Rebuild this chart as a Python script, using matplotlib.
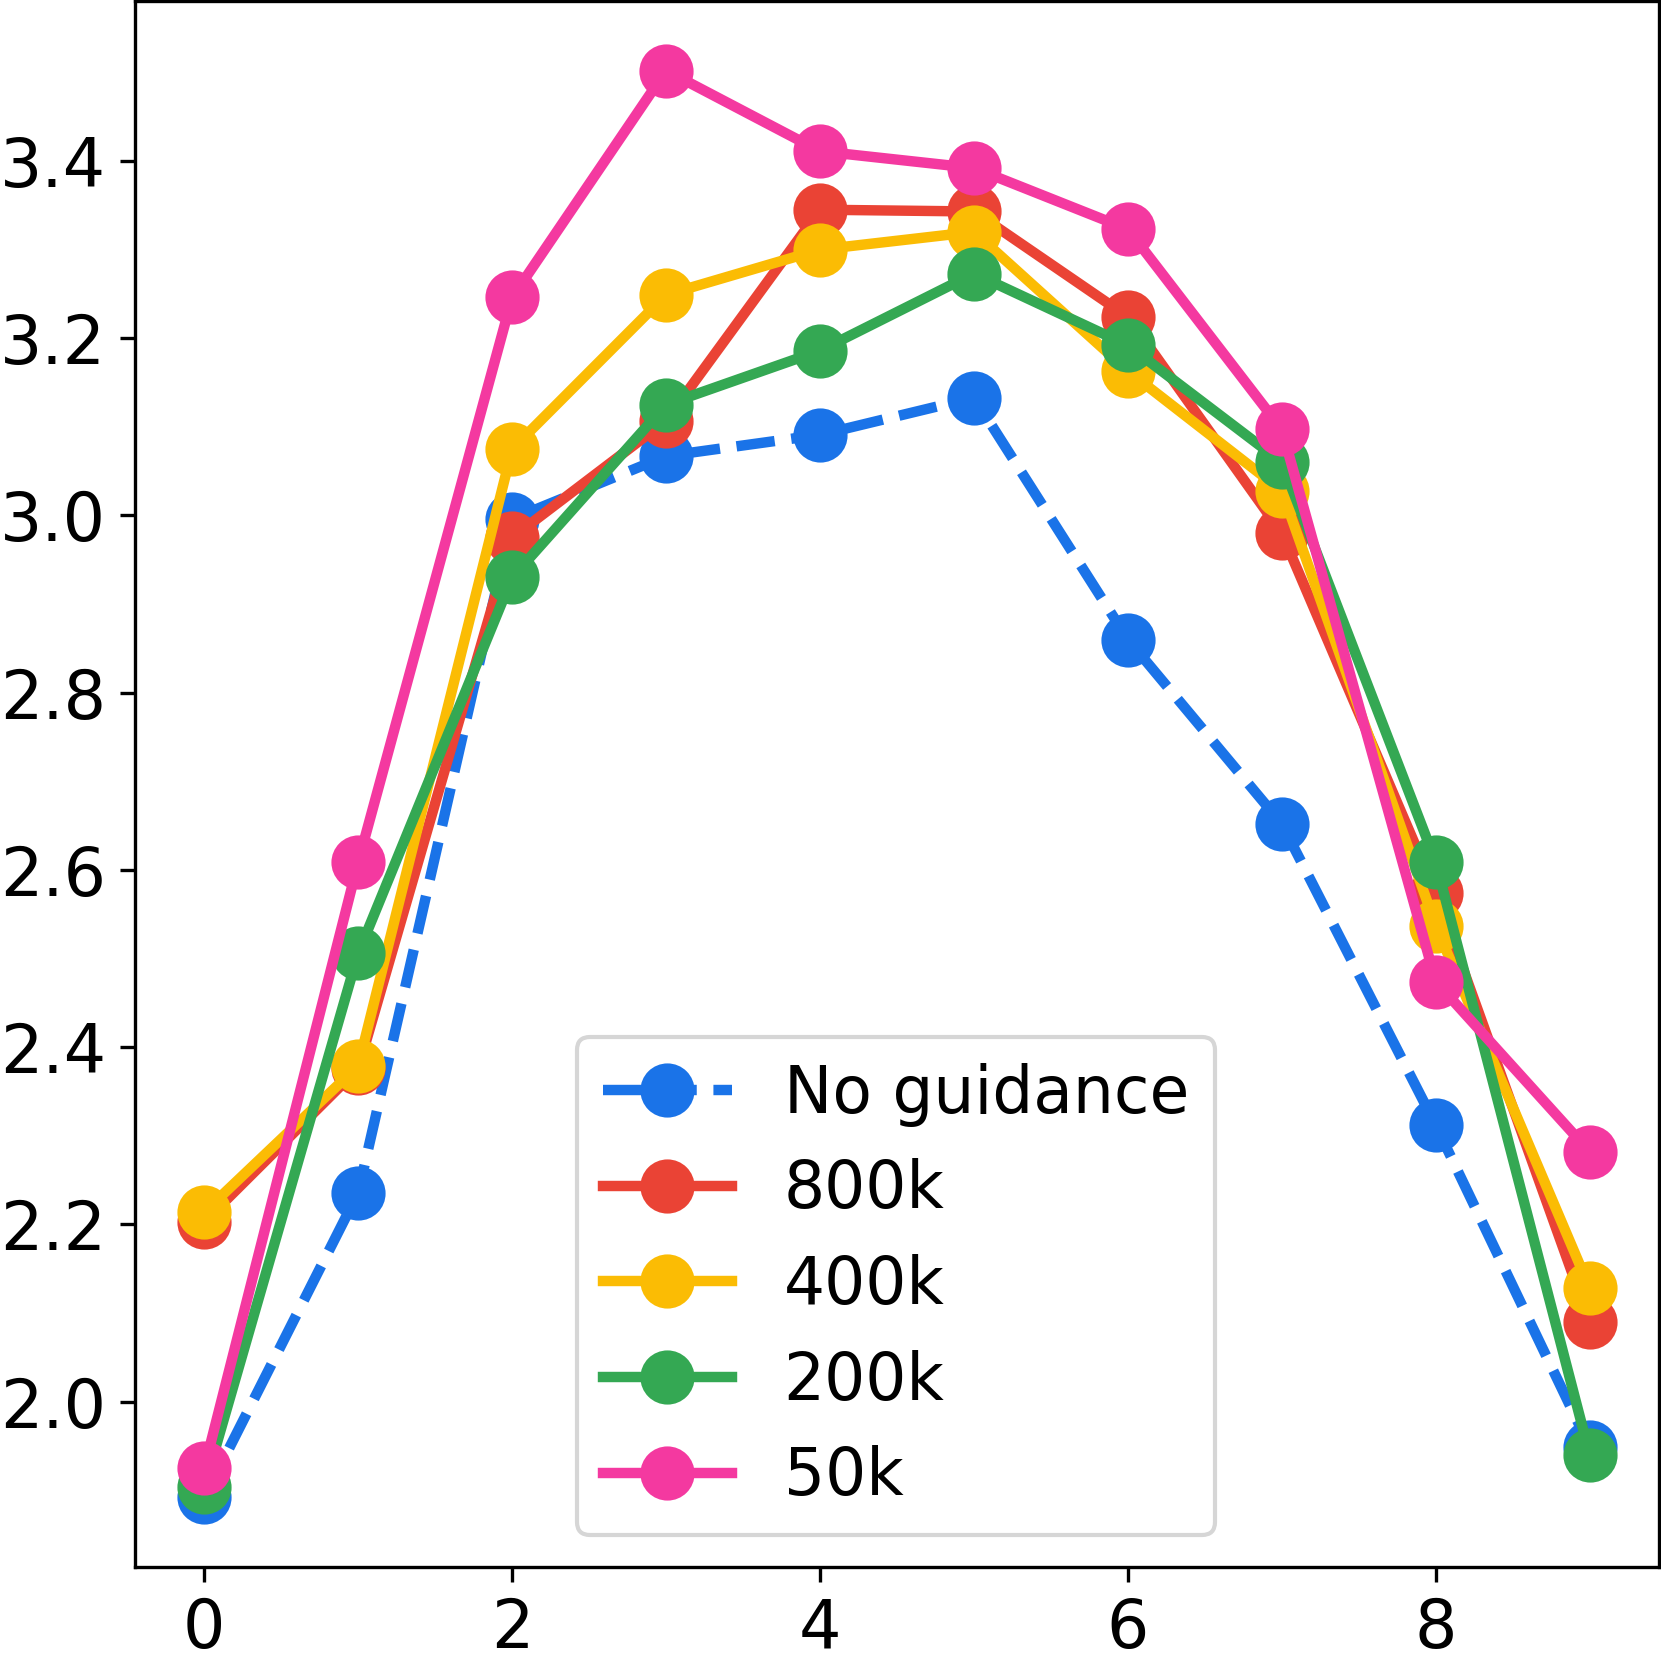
import matplotlib.pyplot as plt

steps = list(range(10))

no_guidance = [1.892, 2.236, 2.996, 3.067, 3.091, 3.133, 2.860, 2.652, 2.312, 1.949]
g800k = [2.203, 2.376, 2.975, 3.107, 3.345, 3.343, 3.224, 2.980, 2.574, 2.090]
g400k = [2.214, 2.379, 3.075, 3.249, 3.300, 3.320, 3.163, 3.028, 2.537, 2.128]
g200k = [1.904, 2.506, 2.930, 3.125, 3.186, 3.273, 3.192, 3.060, 2.609, 1.940]
g50k = [1.925, 2.609, 3.246, 3.502, 3.411, 3.392, 3.323, 3.097, 2.474, 2.282]

labels = ['No guidance', '800k', '400k', '200k', '50k']
colors = ['#1a73e8', '#ea4335', '#fbbc04', '#34a853', '#f439a0']

plt.rcParams['font.size'] = 16

fig = plt.figure(figsize=(1661 / 300, 1661 / 300), dpi=300)
ax = fig.add_axes([0.0813, 0.0566, 0.9175, 0.9428])

series = [no_guidance, g800k, g400k, g200k, g50k]
for vals, lab, c in zip(series, labels, colors):
    ls = '--' if lab == 'No guidance' else '-'
    ax.plot(steps, vals, ls, color=c, lw=2.5, marker='o', markersize=12, label=lab)

ax.set_xlim(-0.45, 9.45)
ax.set_ylim(1.8135, 3.5805)
ax.set_xticks([0, 2, 4, 6, 8])
ax.set_yticks([2.0, 2.2, 2.4, 2.6, 2.8, 3.0, 3.2, 3.4])

ax.legend(loc='lower left', bbox_to_anchor=(0.29, 0.0204), borderaxespad=0,
          fontsize=15.5, handlelength=2.0, labelspacing=0.49)

fig.savefig('out.png', dpi=300)
